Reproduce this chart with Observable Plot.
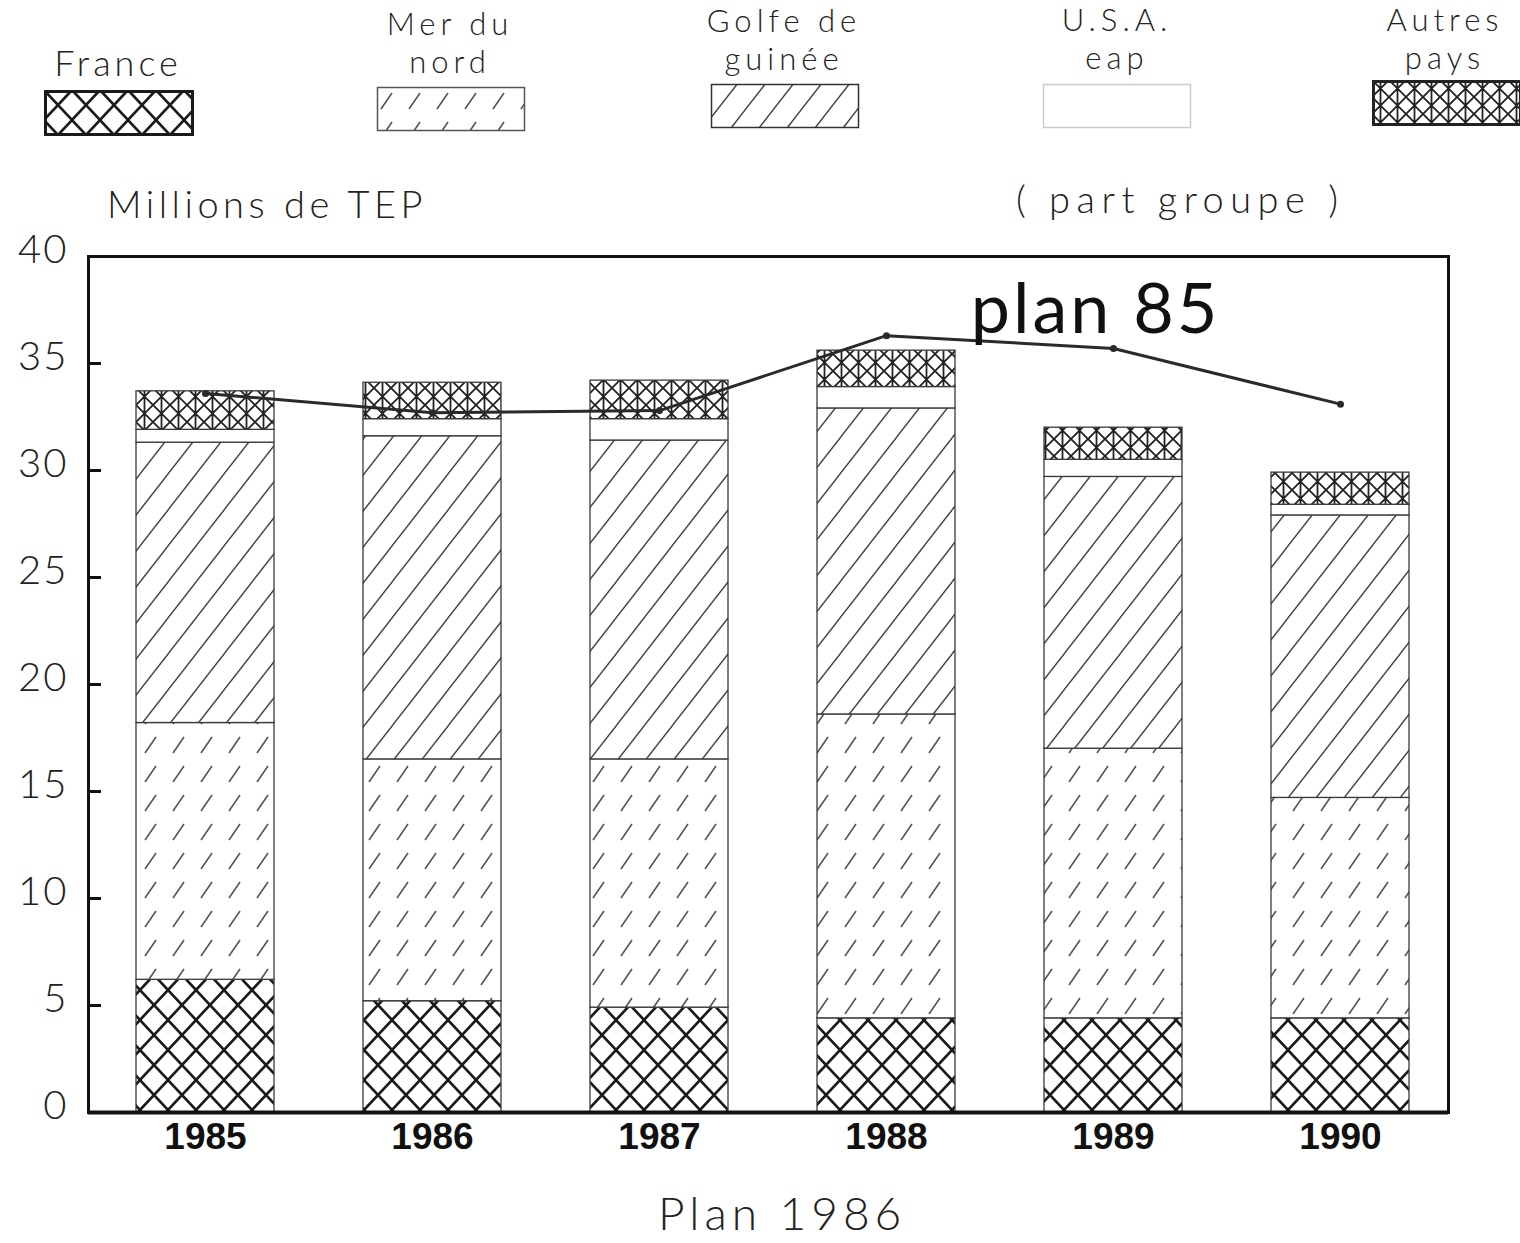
<!DOCTYPE html>
<html><head><meta charset="utf-8">
<script src="https://cdn.jsdelivr.net/npm/d3@7"></script>
<script src="https://cdn.jsdelivr.net/npm/@observablehq/plot@0.6"></script>
<style>
body{margin:0;background:#fff;}
#page{position:relative;width:1520px;height:1243px;overflow:hidden;font-family:Lato,"DejaVu Sans",sans-serif;font-weight:300;color:#222;background:#fff;}
.lg{position:absolute;width:260px;text-align:center;font-size:31px;line-height:38px;letter-spacing:5px;white-space:nowrap;}
.sw{position:absolute;}
.note{position:absolute;font-size:38px;line-height:46px;white-space:nowrap;}
#chart{position:absolute;left:0;top:150px;}
#chart g[aria-label="text"] text{letter-spacing:3px;}
#chart g[aria-label="y-axis tick label"] text{letter-spacing:2px;}
</style></head><body>
<svg width="0" height="0" style="position:absolute">
<defs>
<pattern id="pFr" patternUnits="userSpaceOnUse" width="28" height="30">
<rect width="28" height="30" fill="#fff"/>
<path d="M-2,-2.14L30,32.14M30,-2.14L-2,32.14" stroke="#1a1a1a" stroke-width="2.6" fill="none"/>
</pattern>
<pattern id="pMer" patternUnits="userSpaceOnUse" width="28" height="29">
<rect width="28" height="29" fill="#fff"/>
<path d="M5,23L16,7" stroke="#555" stroke-width="1.6" fill="none"/>
</pattern>
<pattern id="pGo" patternUnits="userSpaceOnUse" width="28" height="36">
<rect width="28" height="36" fill="#fff"/>
<path d="M0,36L28,0M-7,9L7,-9M21,45L35,27" stroke="#444" stroke-width="1.4" fill="none"/>
</pattern>
<pattern id="pAu" patternUnits="userSpaceOnUse" width="17" height="17">
<rect width="17" height="17" fill="#fff"/>
<path d="M0,0L17,17M17,0L0,17M8.5,0V17" stroke="#222" stroke-width="1.8" fill="none"/>
</pattern>
</defs>
</svg>
<div id="page">
  <div id="legend"></div>
  <div class="note" style="left:107px;top:180px;letter-spacing:4.5px;">Millions de TEP</div>
  <div class="note" style="left:1016px;top:175px;letter-spacing:6.5px;">( part groupe )</div>
  <div id="chart"></div>
  <div class="note" style="left:658px;top:1185px;font-size:46px;line-height:56px;letter-spacing:5px;">Plan 1986</div>
</div>
<script>
const years = ["1985", "1986", "1987", "1988", "1989", "1990"];
const categories = ["France", "Mer du nord", "Golfe de guinée", "U.S.A. eap", "Autres pays"];
const legendLines = [["France"], ["Mer du", "nord"], ["Golfe de", "guinée"], ["U.S.A.", "eap"], ["Autres", "pays"]];
const france        = [6.2, 5.2, 4.9, 4.4, 4.4, 4.4];
const merDuNord     = [12.0, 11.3, 11.6, 14.2, 12.6, 10.3];
const golfeDeGuinee = [13.1, 15.1, 14.9, 14.3, 12.7, 13.2];
const usaEap        = [0.6, 0.8, 1.0, 1.0, 0.8, 0.5];
const autresPays    = [1.8, 1.7, 1.8, 1.7, 1.5, 1.5];
const plan85        = [33.6, 32.7, 32.8, 36.3, 35.7, 33.1];
const yTicks = [0, 5, 10, 15, 20, 25, 30, 35, 40];
const yTickMarks = [5, 10, 15, 20, 25, 30, 35];

const fills = ["url(#pFr)", "url(#pMer)", "url(#pGo)", "#fff", "url(#pAu)"];
const swStroke = ["#1a1a1a", "#555", "#333", "#ccc", "#222"];
const series = [france, merDuNord, golfeDeGuinee, usaEap, autresPays];

const rows = [];
years.forEach((yr, i) => categories.forEach((c, k) => rows.push({year: yr, cat: c, value: series[k][i]})));
const planRows = years.map((yr, i) => ({year: yr, value: plan85[i]}));

// legend (HTML)
const legendLayout = [
  {cx: 118, top: 40, sx: 44, sy: 90, fs: 36},
  {cx: 450, top: 4, sx: 376, sy: 86},
  {cx: 784, top: 1, sx: 710, sy: 83},
  {cx: 1117, top: 0, sx: 1042, sy: 83},
  {cx: 1445, top: 0, sx: 1372, sy: 80}
];
const legend = document.getElementById("legend");
categories.forEach((c, k) => {
  const L = legendLayout[k];
  const t = document.createElement("div");
  t.className = "lg";
  t.style.left = (L.cx - 130) + "px";
  t.style.top = L.top + "px";
  if (L.fs) { t.style.fontSize = L.fs + "px"; t.style.lineHeight = "44px"; t.style.letterSpacing = "4px"; }
  legendLines[k].forEach(line => {
    const d = document.createElement("div");
    d.textContent = line;
    t.appendChild(d);
  });
  legend.appendChild(t);
  const s = document.createElementNS("http://www.w3.org/2000/svg", "svg");
  s.setAttribute("class", "sw");
  s.setAttribute("width", 150); s.setAttribute("height", 46);
  s.style.left = L.sx + "px"; s.style.top = L.sy + "px";
  s.innerHTML = `<rect x="1.5" y="1.5" width="147" height="43" fill="${fills[k]}" stroke="${swStroke[k]}" stroke-width="${k === 0 || k === 4 ? 3 : 1.5}"/>`;
  legend.appendChild(s);
});

const chart = Plot.plot({
  width: 1520, height: 1020,
  marginLeft: 88, marginRight: 72, marginTop: 106, marginBottom: 58,
  style: {fontFamily: "Lato, 'DejaVu Sans', sans-serif", background: "transparent", color: "#222"},
  x: {domain: years, paddingInner: 0.39, paddingOuter: 0.18, align: 0.55, label: null},
  y: {domain: [0, 40], label: null},
  color: {domain: categories, range: fills},
  marks: [
    Plot.barY(rows, {x: "year", y: "value", fill: "cat", stroke: "#3a3a3a", strokeWidth: 1.3}),
    Plot.frame({stroke: "#111", strokeWidth: 3}),
    Plot.ruleY([0], {stroke: "#111", strokeWidth: 4}),
    Plot.axisY(yTickMarks, {anchor: "left", tickSize: -13, strokeWidth: 3, stroke: "#111", tickFormat: () => ""}),
    Plot.axisY(yTicks, {anchor: "left", tickSize: 0, tickPadding: 20, fontSize: 40, fontWeight: 300,
      fill: "#222", dy: -6, tickFormat: d => String(d)}),
    Plot.axisX({anchor: "bottom", tickSize: 0, tickPadding: 10, fontSize: 37, fontWeight: "bold",
      fontFamily: "'Liberation Sans', Arial, sans-serif", fill: "#111"}),
    Plot.line(planRows, {x: "year", y: "value", stroke: "#2a2a2a", strokeWidth: 3}),
    Plot.dot(planRows, {x: "year", y: "value", r: 3.5, fill: "#2a2a2a"}),
    Plot.text([planRows[4]], {x: "year", y: "value", text: () => "plan 85", dx: -18, dy: -38,
      fontSize: 70, fontWeight: 400, fill: "#111", textAnchor: "middle"})
  ]
});
document.getElementById("chart").appendChild(chart);
</script>
</body></html>
